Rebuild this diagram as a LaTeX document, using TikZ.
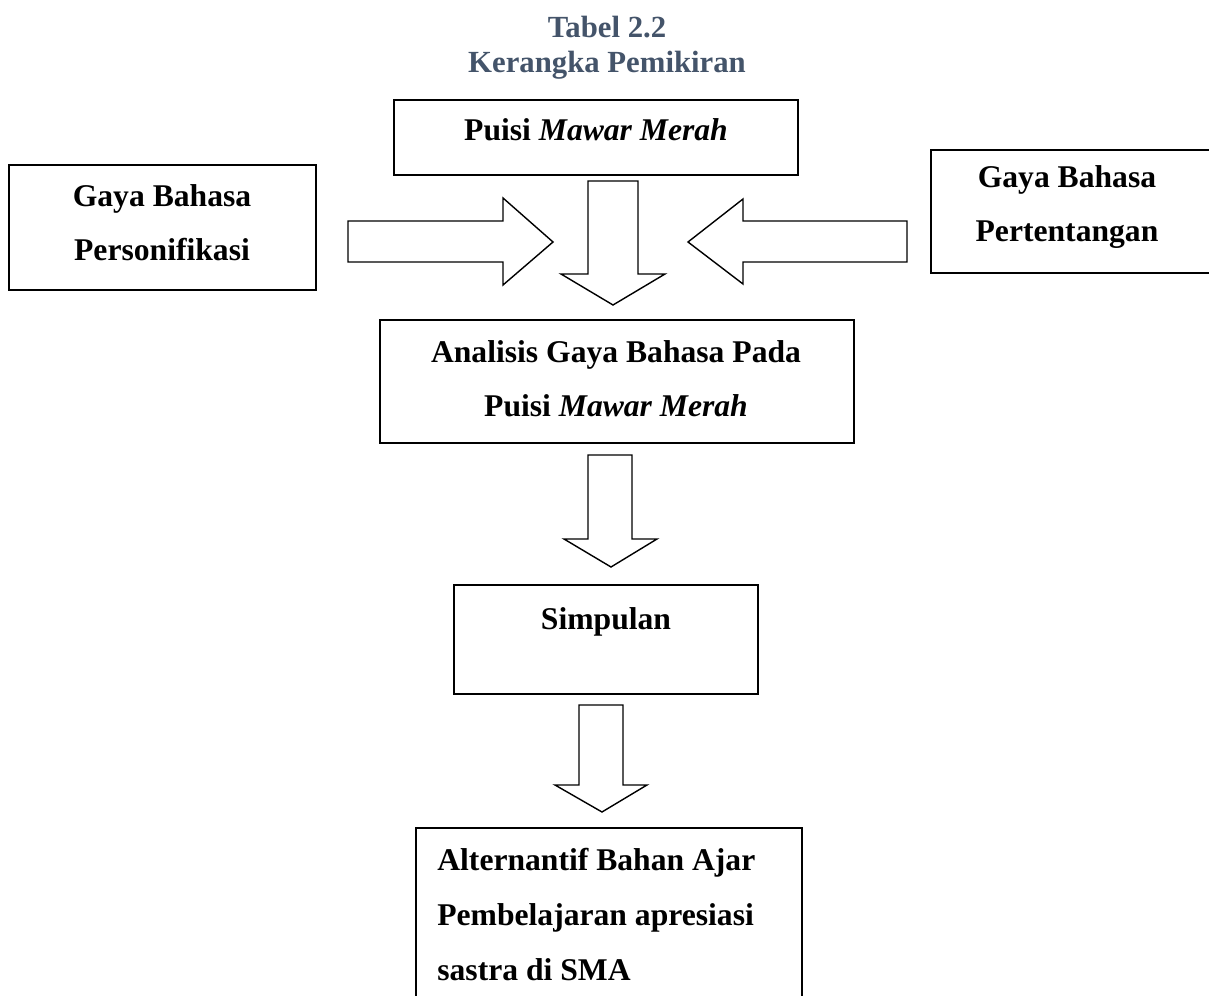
\documentclass[tikz,border=0pt]{standalone}
\usepackage{fontspec}
\setmainfont{Liberation Serif}
\usepackage{tikz}
\usetikzlibrary{positioning}
\definecolor{titleblue}{HTML}{44546A}
\tikzset
{
    box/.style      = {rectangle, draw=black, line width=1.2pt, inner sep=0pt},
    lbl/.style      = {font=\fontsize{18}{31.2}\selectfont\bfseries, inner sep=0pt, anchor=base, align=center},
    title/.style    = {font=\fontsize{17.5}{20}\selectfont\bfseries, text=titleblue, inner sep=0pt, anchor=base},
    blockarrow/.style = {draw=black, line width=0.8pt, fill=white, line join=miter}
}
\begin{document}
\begin{tikzpicture}[x=0.02cm, y=-0.02cm]
		\path[use as bounding box, clip] (0,0) rectangle (1209,996);
		\node (t1)		[title] 	at (607,38) 		{Tabel 2.2};
		\node (t2)		[title] 	at (607,73) 		{Kerangka Pemikiran};
		\node (puisi)	[box, minimum width=8.08cm, minimum height=1.5cm] 	at (596,137.5) 	{};
		\node (pers)	[box, minimum width=6.14cm, minimum height=2.5cm] 	at (162.5,227.5) 	{};
		\node (pert)	[box, minimum width=5.68cm, minimum height=2.46cm] 	at (1073,211.5) 	{};
		\node (anal)	[box, minimum width=9.48cm, minimum height=2.46cm] 	at (617,381.5) 	{};
		\node (simp)	[box, minimum width=6.08cm, minimum height=2.18cm] 	at (606,639.5) 	{};
		\node (alt)		[box, minimum width=7.72cm, minimum height=3.54cm] 	at (609,916.5) 	{};
		\node (puisiT)	[lbl] 	at (596,141) 		{Puisi \textit{Mawar Merah}};
		\node (persT)	[lbl] 	at (162,261) 		{Gaya Bahasa\\Personifikasi};
		\node (pertT)	[lbl] 	at (1067,242) 	{Gaya Bahasa\\Pertentangan};
		\node (analT)	[lbl] 	at (616,417) 		{Analisis Gaya Bahasa Pada\\Puisi \textit{Mawar Merah}};
		\node (simpT)	[lbl] 	at (606,629) 		{Simpulan};
		\node (altT)	[lbl, anchor=base west, align=left] 	at (437,980) 	{Alternantif Bahan Ajar\\Pembelajaran apresiasi\\sastra di SMA};
		\draw[blockarrow] (348,221) -- (503,221) -- (503,198) -- (553,242) -- (503,285) -- (503,262) -- (348,262) -- cycle;
		\draw[blockarrow] (907,221) -- (743,221) -- (743,199) -- (688,242) -- (743,284) -- (743,262) -- (907,262) -- cycle;
		\draw[blockarrow] (588,181) -- (638,181) -- (638,274) -- (665,274) -- (613,305) -- (561,274) -- (588,274) -- cycle;
		\draw[blockarrow] (588,455) -- (632,455) -- (632,539) -- (657,539) -- (611,567) -- (564,539) -- (588,539) -- cycle;
		\draw[blockarrow] (579,705) -- (623,705) -- (623,785) -- (647,785) -- (602,812) -- (555,785) -- (579,785) -- cycle;
	\end{tikzpicture}
\end{document}
